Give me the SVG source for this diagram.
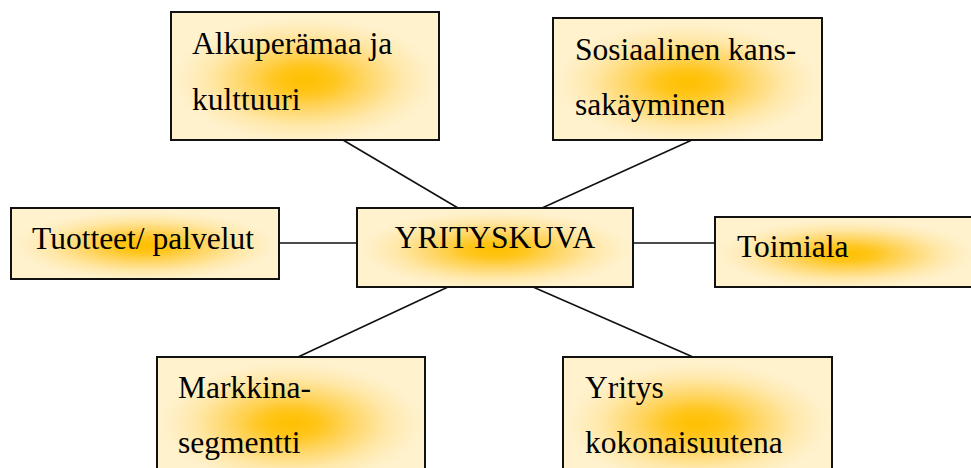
<svg xmlns="http://www.w3.org/2000/svg" width="971" height="468" viewBox="0 0 971 468">
  <style>
    .box { fill: url(#glow); stroke: #111; stroke-width: 2; }
    .lbl { font-family: "Liberation Serif", "Times New Roman", serif; font-size: 31.5px; fill: #000; }
    .link { stroke: #111; stroke-width: 1.6; fill: none; }
  </style>
  <defs>
    <!-- gold centre fading out to pale cream at the edges -->
    <radialGradient id="glow" cx="0.5" cy="0.53" r="0.5">
      <stop offset="0" stop-color="#FFC000"/>
      <stop offset="0.2" stop-color="#FFC519"/>
      <stop offset="0.45" stop-color="#FFD665"/>
      <stop offset="0.72" stop-color="#FFE8AA"/>
      <stop offset="0.92" stop-color="#FFF0C8"/>
      <stop offset="1" stop-color="#FFF2CD"/>
    </radialGradient>
  </defs>

  <!-- connectors -->
  <g id="connectors">
    <line class="link" x1="343" y1="140" x2="458" y2="208"/>
    <line class="link" x1="692" y1="140" x2="542" y2="208"/>
    <line class="link" x1="279" y1="243" x2="357" y2="243"/>
    <line class="link" x1="633" y1="243" x2="715" y2="243"/>
    <line class="link" x1="448" y1="287" x2="298" y2="357"/>
    <line class="link" x1="533" y1="287" x2="693" y2="357"/>
  </g>

  <g id="alkuperamaa">
    <rect class="box" x="171" y="12" width="268" height="128"/>
    <text class="lbl" x="192" y="54">Alkuperämaa ja</text>
    <text class="lbl" x="192" y="110">kulttuuri</text>
  </g>

  <g id="sosiaalinen">
    <rect class="box" x="553" y="18" width="269" height="122"/>
    <text class="lbl" x="575" y="60">Sosiaalinen kans-</text>
    <text class="lbl" x="575" y="115">sakäyminen</text>
  </g>

  <g id="tuotteet">
    <rect class="box" x="11" y="208" width="268" height="71"/>
    <text class="lbl" x="32" y="249">Tuotteet/ palvelut</text>
  </g>

  <g id="yrityskuva">
    <rect class="box" x="357" y="208" width="276" height="79"/>
    <text class="lbl" x="495" y="248" text-anchor="middle">YRITYSKUVA</text>
  </g>

  <g id="toimiala">
    <rect class="box" x="715" y="217" width="262" height="70"/>
    <text class="lbl" x="737" y="257">Toimiala</text>
  </g>

  <g id="markkinasegmentti">
    <rect class="box" x="157" y="357" width="268" height="125"/>
    <text class="lbl" x="178" y="398">Markkina-</text>
    <text class="lbl" x="178" y="453">segmentti</text>
  </g>

  <g id="yritys">
    <rect class="box" x="563" y="357" width="269" height="125"/>
    <text class="lbl" x="585" y="398">Yritys</text>
    <text class="lbl" x="585" y="453">kokonaisuutena</text>
  </g>
</svg>
